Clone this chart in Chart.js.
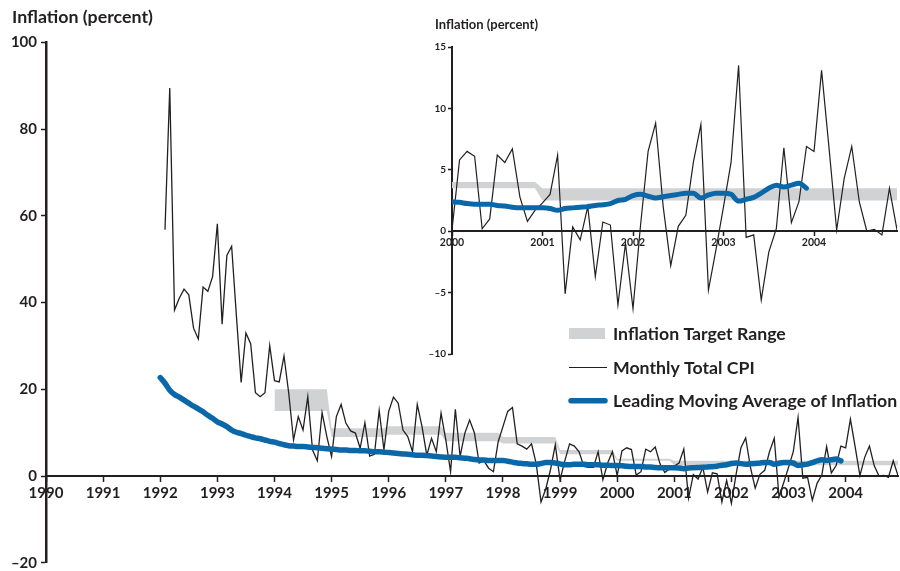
<!DOCTYPE html>
<html>
<head>
<meta charset="utf-8">
<script src="https://cdn.jsdelivr.net/npm/chart.js@4.4.1/dist/chart.umd.min.js"></script>
<style>
  html, body { margin: 0; padding: 0; background: #fff; }
  #wrap { position: relative; width: 900px; height: 571px; }
  #mainChart { position: absolute; left: 0; top: 0; }
  #insetChart { position: absolute; left: 400px; top: 0; }
</style>
</head>
<body>
<div id="wrap">
  <canvas id="mainChart" width="900" height="571"></canvas>
  <canvas id="insetChart" width="500" height="370"></canvas>
</div>
<script>
// monthly total CPI (annualised, percent), Jan 1992 .. Nov 2004
const cpiValues = [
  56.8, 89.5, 38.3, 41, 43.1, 41.8, 34.1, 31.6, 43.6, 42.6, 46, 58.2,
  35, 50.9, 53, 37, 21.6, 33, 30.5, 19.2, 18.3, 19.2, 30.1, 22,
  21.7, 27.7, 19.1, 8.3, 13.7, 10.6, 18.3, 6, 3.5, 14.6, 9.1, 4.5,
  13.7, 16.5, 12.2, 10.4, 9.9, 6.4, 12.3, 4.6, 5, 15.1, 6, 14.9,
  18.2, 16.8, 10.6, 9.1, 5.6, 16.5, 11.4, 4.8, 8.7, 5.6, 14.5, 8.3,
  1, 15.4, 4.5, 9.9, 12.9, 10, 3, 3.5, 1.8, 1, 7.9, 11.4,
  14.9, 15.8, 7.4, 6.9, 6.2, 7.4, 2.8, -6, -3, 1.5, 7.2, -0.9,
  3.5, 7.4, 6.9, 5.6, 2.2, 2, 2, 5.6, -0.9, 3, 5.6, 0.1,
  5.8, 6.5, 6.1, 0.2, 1.0, 6.2, 5.6, 6.7, 2.8, 0.8, 1.7, 2.3,
  3.0, 6.2, -5.1, 0.35, -0.7, 2, -3.7, 0.75, 0.5, -6.0, -1.0, -6.3,
  0.5, 6.5, 8.8, 2.0, -2.8, 0.4, 1.3, 5.6, 8.7, -4.8, -1.5, 2.0,
  5.6, 13.5, -0.5, -0.3, -5.6, -1.7, 0.2, 6.8, 0.7, 2.4, 6.9, 6.5,
  13.1, 6.7, 0.1, 4.3, 6.9, 2.4, 0, 0.15, -0.3, 3.5, 0.1
];

// leading moving average of inflation, monthly from Jan 1992 .. Dec 2003
const maValues = [
  22.7, 21.4, 19.8, 18.8, 18.2, 17.5, 16.8, 16.1, 15.5, 14.8, 14.0, 13.3,
  12.5, 12.0, 11.4, 10.6, 10.1, 9.8, 9.4, 9.1, 8.8, 8.6, 8.3, 8.0,
  7.8, 7.5, 7.2, 7.0, 6.9, 6.8, 6.8, 6.7, 6.6, 6.5, 6.4, 6.3,
  6.2, 6.1, 6.0, 6.0, 5.9, 5.9, 5.8, 5.8, 5.7, 5.6, 5.6, 5.5,
  5.4, 5.3, 5.2, 5.1, 5.0, 4.9, 4.8, 4.8, 4.7, 4.6, 4.5, 4.4,
  4.3, 4.3, 4.3, 4.2, 4.1, 4.0, 3.8, 3.7, 3.7, 3.6, 3.6, 3.6,
  3.6, 3.4, 3.2, 3.0, 2.9, 2.8, 2.7, 2.7, 2.9, 3.1, 3.1, 3.0,
  2.8, 2.6, 2.6, 2.7, 2.7, 2.7, 2.6, 2.6, 2.6, 2.5, 2.5, 2.4,
  2.4, 2.35, 2.25, 2.2, 2.2, 2.2, 2.1, 2.05, 1.95, 1.9, 1.9, 1.9,
  1.9, 1.85, 1.7, 1.85, 1.9, 1.95, 2.0, 2.1, 2.15, 2.25, 2.5, 2.6,
  2.9, 3.0, 2.85, 2.7, 2.8, 2.9, 3.0, 3.1, 3.1, 2.7, 2.95, 3.1,
  3.1, 3.0, 2.45, 2.6, 2.75, 3.1, 3.5, 3.75, 3.6, 3.75, 3.9, 3.5
];

// inflation target range per year
const targetYears = [1994, 1995, 1996, 1997, 1998, 1999, 2000, 2001, 2002, 2003, 2004];
const targetLow   = [15, 9, 9.5, 8, 7.5, 5, 3.5, 2.5, 2.5, 2.5, 2.5];
const targetHigh  = [20, 11, 11.5, 10, 9, 6, 4, 3.5, 3.5, 3.5, 3.5];

const mainYearTicks = [1990, 1991, 1992, 1993, 1994, 1995, 1996, 1997, 1998, 1999, 2000, 2001, 2002, 2003, 2004];
const mainValueTicks = [-20, 0, 20, 40, 60, 80, 100];
const insetYearTicks = [2000, 2001, 2002, 2003, 2004];
const insetValueTicks = [-10, -5, 0, 5, 10, 15];

const BLUE = '#0a68a9';
const GRAY = '#d1d2d4';
const INK = '#231f20';
const X_END = 1992 + cpiValues.length / 12;

Chart.defaults.font.family = 'Lato';
Chart.defaults.color = INK;

const cpiPts = cpiValues.map((v, i) => ({ x: 1992 + (i + 1) / 12, y: v }));
const maPts = maValues.map((v, i) => ({ x: 1992 + i / 12, y: v }));

function bandLine(levels) {
  const pts = [];
  targetYears.forEach((yr, i) => {
    pts.push({ x: yr, y: levels[i] });
    pts.push({ x: Math.min(yr + 11 / 12, X_END), y: levels[i] });
  });
  return pts;
}

function minusLabel(v) {
  return v < 0 ? '\u2013' + Math.abs(v) : String(v);
}

function buildDatasets(fromYear, maWidth, cpiWidth) {
  const keep = p => p.x >= fromYear - 1e-6;
  return [
    { label: 'Leading Moving Average of Inflation', data: maPts.filter(keep), borderColor: BLUE,
      borderWidth: maWidth, pointRadius: 0, cubicInterpolationMode: 'monotone',
      borderCapStyle: 'round', borderJoinStyle: 'round', fill: false },
    { label: 'Monthly Total CPI', data: cpiPts.filter(keep), borderColor: INK,
      borderWidth: cpiWidth, pointRadius: 0, tension: 0, fill: false },
    { label: 'band high', data: bandLine(targetHigh).filter(keep), borderColor: 'rgba(0,0,0,0)',
      borderWidth: 1, pointRadius: 0, tension: 0, fill: false },
    { label: 'Inflation Target Range', data: bandLine(targetLow).filter(keep), borderColor: 'rgba(0,0,0,0)',
      borderWidth: 1, pointRadius: 0, tension: 0, fill: '-1', backgroundColor: GRAY }
  ];
}

function axes(opts) {
  return {
    x: {
      type: 'linear', min: opts.xMin, max: X_END, position: { y: 0 },
      afterFit: s => { s.height = 0; s.paddingLeft = 0; s.paddingRight = 0; },
      afterBuildTicks: s => { s.ticks = opts.xTicks.map(v => ({ value: v })); },
      ticks: { font: { size: opts.xFont, weight: 'bold' }, color: INK, padding: opts.xPad,
        maxRotation: 0, autoSkip: false, callback: v => String(v) },
      grid: { drawOnChartArea: false, drawTicks: true, tickLength: opts.tickLen, tickColor: INK, tickWidth: 1.5 },
      border: { color: INK, width: opts.xBorder }
    },
    y: {
      type: 'linear', min: opts.yMin, max: opts.yMax, position: 'left',
      afterFit: s => { s.width = opts.yWidth; s.paddingTop = 0; s.paddingBottom = 0; },
      afterBuildTicks: s => { s.ticks = opts.yTicks.map(v => ({ value: v })); },
      ticks: { font: { size: opts.yFont, weight: 'bold' }, color: INK, padding: opts.yPad,
        callback: minusLabel },
      grid: { drawOnChartArea: false, drawTicks: true, tickLength: opts.tickLen, tickColor: INK, tickWidth: 1.5 },
      border: { color: INK, width: opts.yBorder }
    }
  };
}

const titlePlugin = {
  id: 'axisTitle',
  afterDraw(chart, args, o) {
    const ctx = chart.ctx;
    ctx.save();
    ctx.fillStyle = INK;
    ctx.font = 'bold ' + o.size + 'px Lato';
    ctx.textBaseline = 'alphabetic';
    ctx.fillText('Inflation (percent)', o.x, o.y);
    ctx.restore();
  }
};

const legendPlugin = {
  id: 'legendBox',
  afterDraw(chart) {
    const ctx = chart.ctx;
    ctx.save();
    ctx.fillStyle = GRAY;
    ctx.fillRect(569, 328, 36, 11);
    ctx.strokeStyle = INK;
    ctx.lineWidth = 1.2;
    ctx.beginPath();
    ctx.moveTo(569, 367.5);
    ctx.lineTo(607, 367.5);
    ctx.stroke();
    ctx.strokeStyle = BLUE;
    ctx.lineWidth = 5.5;
    ctx.lineCap = 'round';
    ctx.beginPath();
    ctx.moveTo(571, 400.7);
    ctx.lineTo(605, 400.7);
    ctx.stroke();
    ctx.fillStyle = INK;
    ctx.font = 'bold 17.7px Lato';
    ctx.textBaseline = 'alphabetic';
    ctx.fillText('Inflation Target Range', 613, 340);
    ctx.fillText('Monthly Total CPI', 613, 373.5);
    ctx.fillText('Leading Moving Average of Inflation', 613, 406.7);
    ctx.restore();
  }
};

new Chart(document.getElementById('mainChart'), {
  type: 'line',
  data: { datasets: buildDatasets(1990, 5.5, 1.3) },
  options: {
    responsive: false, animation: false, devicePixelRatio: 1, events: [],
    layout: { padding: { top: 42.5, right: 2, bottom: 8.3, left: 0 } },
    plugins: {
      legend: { display: false }, tooltip: { enabled: false },
      axisTitle: { x: 12, y: 22.5, size: 17.8 }
    },
    scales: axes({ xMin: 1990, xTicks: mainYearTicks, xFont: 15, xPad: 3, tickLen: 5, xBorder: 2,
      yMin: -20, yMax: 100, yTicks: mainValueTicks, yFont: 15, yPad: 4, yWidth: 46, yBorder: 2.5 })
  },
  plugins: [titlePlugin, legendPlugin]
});

new Chart(document.getElementById('insetChart'), {
  type: 'line',
  data: { datasets: buildDatasets(2000, 5, 1.2) },
  options: {
    responsive: false, animation: false, devicePixelRatio: 1, events: [],
    layout: { padding: { top: 47, right: 3, bottom: 16, left: 0 } },
    plugins: {
      legend: { display: false }, tooltip: { enabled: false },
      axisTitle: { x: 35, y: 29, size: 13 }
    },
    scales: axes({ xMin: 2000, xTicks: insetYearTicks, xFont: 10.5, xPad: 1, tickLen: 4, xBorder: 2,
      yMin: -10, yMax: 15, yTicks: insetValueTicks, yFont: 10, yPad: 2, yWidth: 52, yBorder: 2 })
  },
  plugins: [titlePlugin]
});
</script>
</body>
</html>
